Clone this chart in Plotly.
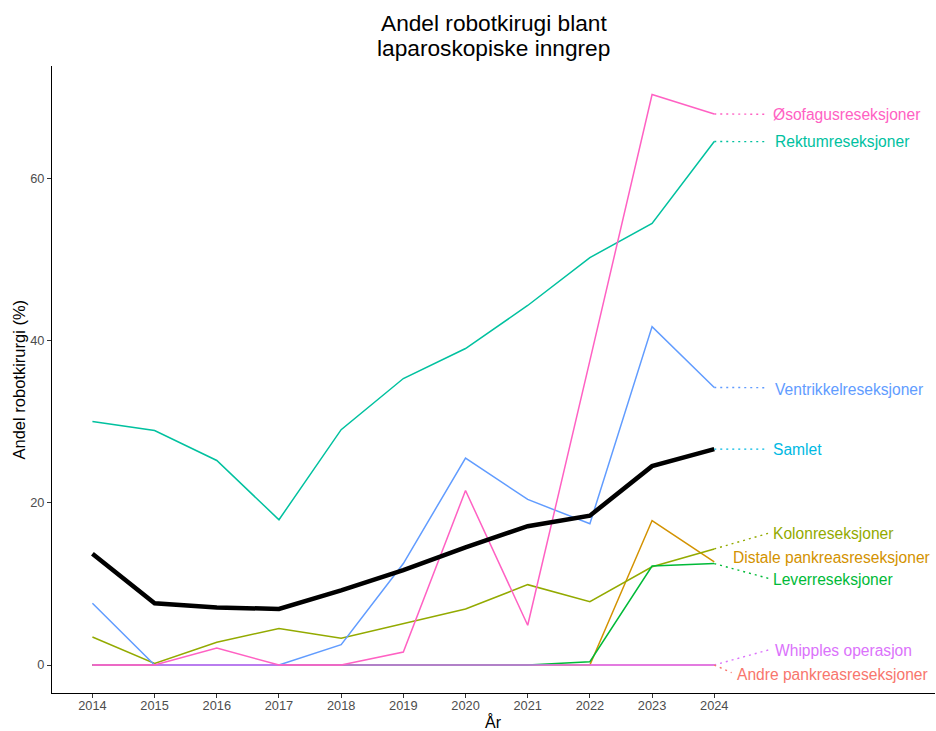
import plotly.graph_objects as go

# Share of laparoscopic procedures performed with robotic assistance (%)
years = [2014, 2015, 2016, 2017, 2018, 2019, 2020, 2021, 2022, 2023, 2024]

groups = [
    "Andre pankreasreseksjoner",
    "Distale pankreasreseksjoner",
    "Kolonreseksjoner",
    "Leverreseksjoner",
    "Rektumreseksjoner",
    "Ventrikkelreseksjoner",
    "Whipples operasjon",
    "Øsofagusreseksjoner",
]

andre = [0, 0, 0, 0, 0, 0, 0, 0, 0, 0, 0]
distale = [0, 0, 0, 0, 0, 0, 0, 0, 0, 17.8, 12.7]
kolon = [3.45, 0.2, 2.8, 4.5, 3.3, 5.1, 6.9, 9.9, 7.8, 12.1, 14.3]
lever = [0, 0, 0, 0, 0, 0, 0, 0, 0.4, 12.2, 12.5]
rektum = [30.0, 28.9, 25.2, 17.9, 29.0, 35.3, 39.0, 44.3, 50.2, 54.4, 64.5]
ventrikkel = [7.6, 0, 0, 0, 2.5, 12.5, 25.5, 20.4, 17.4, 41.7, 34.2]
whipples = [0, 0, 0, 0, 0, 0, 0, 0, 0, 0, 0]
osofagus = [0, 0, 2.1, 0, 0, 1.6, 21.5, 4.9, 37.5, 70.3, 67.9]
samlet = [13.7, 7.6, 7.1, 6.9, 9.2, 11.7, 14.5, 17.1, 18.4, 24.5, 26.6]

series = [andre, distale, kolon, lever, rektum, ventrikkel, whipples, osofagus]

y_ticks = [0, 20, 40, 60]

# ggplot hue palette for the nine groups
colors = {
    "Andre pankreasreseksjoner": "#F8766D",
    "Distale pankreasreseksjoner": "#D39200",
    "Kolonreseksjoner": "#93AA00",
    "Leverreseksjoner": "#00BA38",
    "Rektumreseksjoner": "#00C19F",
    "Samlet": "#00B9E3",
    "Ventrikkelreseksjoner": "#619CFF",
    "Whipples operasjon": "#DB72FB",
    "Øsofagusreseksjoner": "#FF61C3",
}

# Repelled label placement: (text left x, text y, segment end x, segment end y or None)
label_pos = {
    "Øsofagusreseksjoner": (2024.91, 67.84, 2024.85, 67.86),
    "Rektumreseksjoner": (2024.95, 64.53, 2024.85, 64.49),
    "Ventrikkelreseksjoner": (2024.95, 34.0, 2024.85, 34.17),
    "Samlet": (2024.92, 26.5, 2024.84, 26.6),
    "Kolonreseksjoner": (2024.92, 16.23, 2024.87, 16.23),
    "Distale pankreasreseksjoner": (2024.27, 13.22, None, None),
    "Leverreseksjoner": (2024.91, 10.56, 2024.87, 10.68),
    "Whipples operasjon": (2024.95, 1.76, 2024.87, 1.85),
    "Andre pankreasreseksjoner": (2024.34, -1.15, 2024.28, -0.95),
}

FONT = "Liberation Sans, Arial, sans-serif"

fig = go.Figure()

for name, vals in zip(groups, series):
    fig.add_trace(go.Scatter(
        x=years, y=vals, mode="lines", name=name,
        line=dict(color=colors[name], width=1.5),
        hoverinfo="skip", showlegend=False,
    ))

fig.add_trace(go.Scatter(
    x=years, y=samlet, mode="lines", name="Samlet",
    line=dict(color="black", width=4.5),
    hoverinfo="skip", showlegend=False,
))

end_values = {name: vals[-1] for name, vals in zip(groups, series)}
end_values["Samlet"] = samlet[-1]

annotations = []
for name, (lx, ly, sx, sy) in label_pos.items():
    if sx is not None:
        fig.add_trace(go.Scatter(
            x=[years[-1], sx], y=[end_values[name], sy], mode="lines",
            line=dict(color=colors[name], width=1.4, dash="2px,4px"),
            hoverinfo="skip", showlegend=False,
        ))
    annotations.append(dict(
        x=lx, y=ly, xref="x", yref="y", text=name, showarrow=False,
        xanchor="left", yanchor="middle",
        font=dict(family=FONT, size=15.6, color=colors[name]),
    ))

# Title (two lines) and axis titles
annotations += [
    dict(x=0.5, y=1.0678, xref="paper", yref="paper", text="Andel robotkirugi blant",
         showarrow=False, xanchor="center", yanchor="middle",
         font=dict(family=FONT, size=22.7, color="black")),
    dict(x=0.5, y=1.0295, xref="paper", yref="paper", text="laparoskopiske inngrep",
         showarrow=False, xanchor="center", yanchor="middle",
         font=dict(family=FONT, size=22.7, color="black")),
    dict(x=0.5, y=-0.0463, xref="paper", yref="paper", text="År",
         showarrow=False, xanchor="center", yanchor="middle",
         font=dict(family=FONT, size=16, color="black")),
    dict(x=-0.0385, y=0.5, xref="paper", yref="paper", text="Andel robotkirurgi (%)",
         showarrow=False, xanchor="center", yanchor="middle", textangle=-90,
         font=dict(family=FONT, size=16.5, color="black")),
]

fig.update_layout(
    width=936, height=731,
    margin=dict(l=52, r=1, t=66, b=38),
    paper_bgcolor="white", plot_bgcolor="white",
    annotations=annotations,
    font=dict(family=FONT),
)

fig.update_xaxes(
    range=[2013.35, 2027.55], tickvals=years, ticktext=[str(y) for y in years],
    showgrid=False, zeroline=False, showline=True, linecolor="black", linewidth=1.1,
    ticks="outside", ticklen=4, tickcolor="#333333", tickwidth=1,
    ticklabelstandoff=-3,
    tickfont=dict(family=FONT, size=12.8, color="#4D4D4D"),
)
fig.update_yaxes(
    range=[-3.45, 73.81], tickvals=y_ticks, ticktext=[str(v) for v in y_ticks],
    showgrid=False, zeroline=False, showline=True, linecolor="black", linewidth=1.1,
    ticks="outside", ticklen=4, tickcolor="#333333", tickwidth=1,
    tickfont=dict(family=FONT, size=12.8, color="#4D4D4D"),
)

fig.write_html("out.html")
